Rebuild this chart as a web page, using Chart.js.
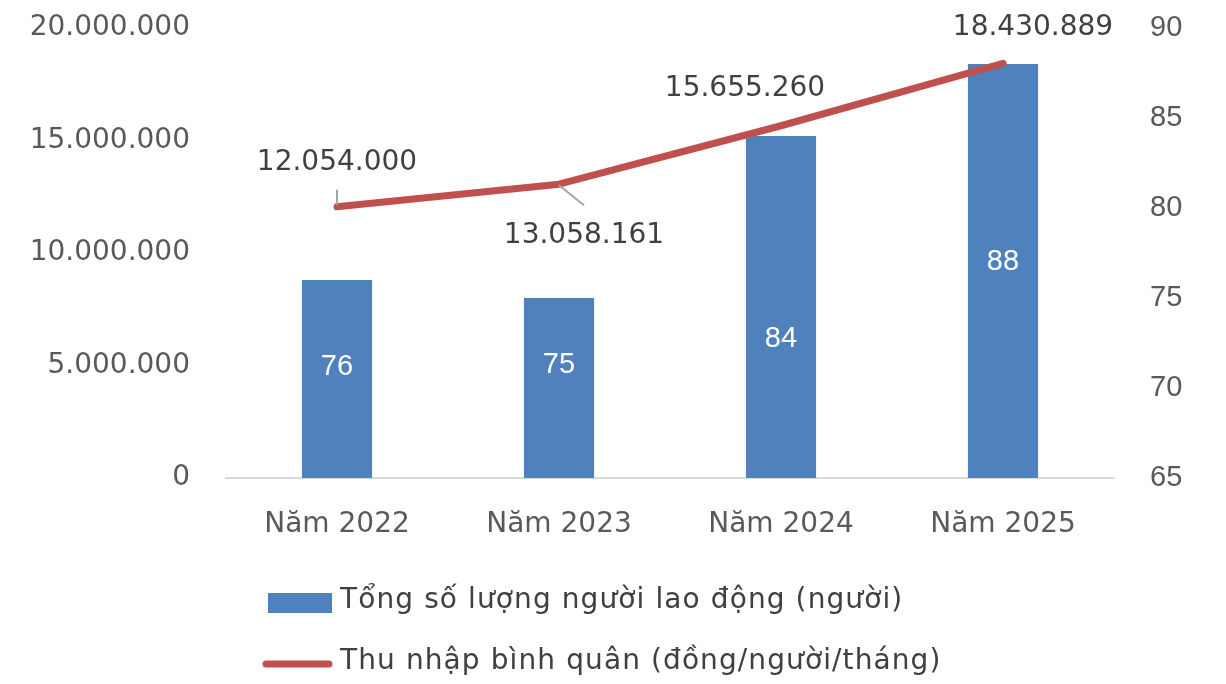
<!DOCTYPE html>
<html>
<head>
<meta charset="utf-8">
<script src="https://cdn.jsdelivr.net/npm/chart.js@4/dist/chart.umd.min.js"></script>
<style>
  html, body { margin: 0; padding: 0; background: #fff; }
  #wrap { width: 1226px; height: 684px; position: relative; }
</style>
</head>
<body>
<div id="wrap"><canvas id="c" width="1226" height="684"></canvas></div>
<script>
// Categories and series
const categories = ['Năm 2022', 'Năm 2023', 'Năm 2024', 'Năm 2025'];
const workers = [76, 75, 84, 88];
const income = [12054000, 13058161, 15655260, 18430889];
const workersLabel = 'Tổng số lượng người lao động (người)';
const incomeLabel = 'Thu nhập bình quân (đồng/người/tháng)';

const FONT = '"DejaVu Sans", "Noto Sans", sans-serif';
const NUM_FONT = '"Liberation Sans", Arial, sans-serif';
const BLUE = '#4F81BD';
const RED = '#C0504D';
const TEXT = '#404040';
const AXIS_TEXT = '#595959';

function viNumber(v) {
  return String(Math.round(v)).replace(/\B(?=(\d{3})+(?!\d))/g, '.');
}

// Label offsets (px) for the line's value labels and the bar labels
const lineLabelOffsets = [[0, -44], [25, 52], [-36, -37], [30, -36]];
const leaderLines = [[[0, -17], [0, -2]], [[0, 1], [25, 21]], null, null];
const barLabelOffsets = [-12, -23, 32, -9];

// vertical axes: keep the tick label overhang from shrinking the plot
function fixVertical(width) {
  return s => { s.width = width; s.paddingTop = 0; s.paddingBottom = 0; };
}

const labelsPlugin = {
  id: 'labelsPlugin',
  afterDatasetsDraw(chart) {
    const ctx = chart.ctx;
    const yR = chart.scales.yRight;
    const baseY = yR.getPixelForValue(yR.min);
    ctx.save();
    // bar labels
    const barMeta = chart.getDatasetMeta(0);
    ctx.font = '29px ' + NUM_FONT;
    ctx.fillStyle = '#FFFFFF';
    ctx.textAlign = 'center';
    ctx.textBaseline = 'middle';
    barMeta.data.forEach((bar, i) => {
      const topY = yR.getPixelForValue(workers[i]);
      const cy = (topY + baseY) / 2 + barLabelOffsets[i];
      ctx.fillText(String(workers[i]), bar.x, cy);
    });
    // line labels and leader lines
    const lineMeta = chart.getDatasetMeta(1);
    lineMeta.data.forEach((pt, i) => {
      const ll = leaderLines[i];
      if (ll) {
        ctx.strokeStyle = '#A6A6A6';
        ctx.lineWidth = 2;
        ctx.beginPath();
        ctx.moveTo(pt.x + ll[0][0], pt.y + ll[0][1]);
        ctx.lineTo(pt.x + ll[1][0], pt.y + ll[1][1]);
        ctx.stroke();
      }
      ctx.fillStyle = TEXT;
      ctx.font = '28px ' + FONT;
      ctx.fillText(viNumber(income[i]), pt.x + lineLabelOffsets[i][0], pt.y + lineLabelOffsets[i][1]);
    });
    ctx.restore();
  },
  afterDraw(chart) {
    // legend, stacked and left-aligned under the axis
    const ctx = chart.ctx;
    ctx.save();
    ctx.font = '28px ' + FONT;
    ctx.letterSpacing = '1.1px';
    ctx.fillStyle = BLUE;
    ctx.fillRect(268, 593, 64, 20);
    ctx.fillStyle = TEXT;
    ctx.textAlign = 'left';
    ctx.textBaseline = 'middle';
    ctx.fillText(workersLabel, 340, 601);
    ctx.strokeStyle = RED;
    ctx.lineWidth = 7;
    ctx.lineCap = 'round';
    ctx.beginPath();
    ctx.moveTo(266, 664);
    ctx.lineTo(329, 664);
    ctx.stroke();
    ctx.fillText(incomeLabel, 340, 662);
    ctx.restore();
  }
};

new Chart(document.getElementById('c'), {
  data: {
    labels: categories,
    datasets: [
      {
        type: 'bar',
        label: workersLabel,
        data: workers,
        yAxisID: 'yRight',
        backgroundColor: BLUE,
        barPercentage: 0.316,
        categoryPercentage: 1,
        order: 2
      },
      {
        type: 'line',
        label: incomeLabel,
        data: income,
        yAxisID: 'yLeft',
        borderColor: RED,
        borderWidth: 7,
        borderCapStyle: 'round',
        borderJoinStyle: 'round',
        pointRadius: 0,
        tension: 0,
        order: 1
      }
    ]
  },
  options: {
    responsive: false,
    animation: false,
    devicePixelRatio: 1,
    layout: { padding: { top: 28, bottom: 0, left: 0, right: 0 }, autoPadding: false },
    plugins: {
      legend: { display: false },
      tooltip: { enabled: false }
    },
    scales: {
      x: {
        grid: { display: false, drawTicks: false },
        border: { display: true, color: '#D9D9D9', width: 2 },
        ticks: { color: AXIS_TEXT, font: { family: FONT, size: 28 }, padding: 30 },
        afterFit(s) { s.height = 684 - 478; s.paddingLeft = 0; s.paddingRight = 0; }
      },
      yLeft: {
        position: 'left',
        min: 0,
        max: 20000000,
        grid: { display: false, drawTicks: false },
        border: { display: false },
        ticks: {
          stepSize: 5000000,
          color: AXIS_TEXT,
          font: { family: FONT, size: 28 },
          padding: 36,
          callback: v => viNumber(v)
        },
        afterFit: fixVertical(226)
      },
      yRight: {
        position: 'right',
        min: 65,
        max: 90,
        grid: { display: false, drawTicks: false },
        border: { display: false },
        ticks: {
          stepSize: 5,
          color: AXIS_TEXT,
          font: { family: NUM_FONT, size: 29 },
          padding: 36
        },
        afterFit: fixVertical(1226 - 1114)
      }
    }
  },
  plugins: [labelsPlugin]
});
</script>
</body>
</html>
